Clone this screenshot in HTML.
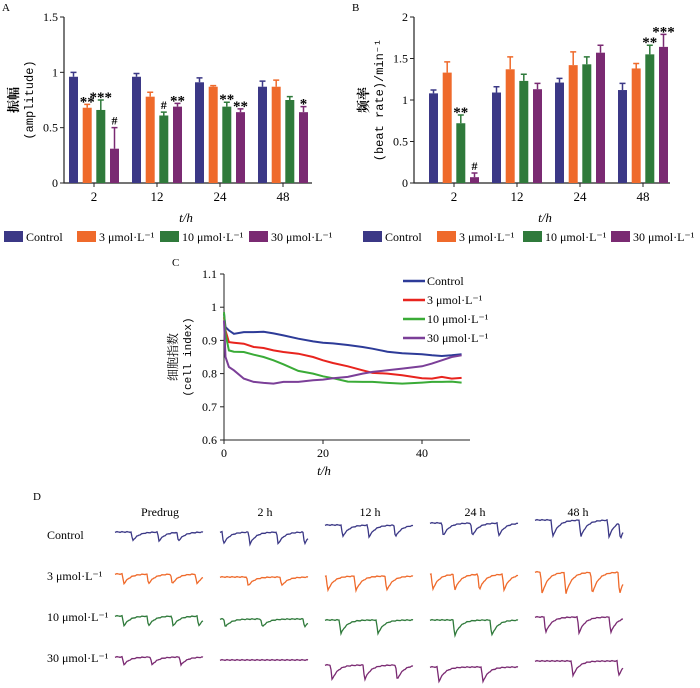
<!DOCTYPE html>
<html><head><meta charset="utf-8">
<style>
html,body{margin:0;padding:0;background:#fff;}
svg{display:block;font-family:"Liberation Serif","Noto Serif CJK SC",serif;}
</style></head>
<body>
<svg id="fig" width="700" height="688" viewBox="0 0 700 688" xmlns="http://www.w3.org/2000/svg">
<text x="2" y="11" font-size="11">A</text>
<text x="352" y="11" font-size="11">B</text>
<text x="172" y="266" font-size="11">C</text>
<text x="33" y="500" font-size="11">D</text>
<g transform="translate(18,100) rotate(-90)"><text x="0" y="0" text-anchor="middle" font-size="13" font-weight="bold">振幅</text><text x="0" y="15" text-anchor="middle" font-size="12" font-family="Liberation Mono, monospace">(amplitude)</text></g>
<g transform="translate(368,100) rotate(-90)"><text x="0" y="0" text-anchor="middle" font-size="13" font-weight="bold">频率</text><text x="0" y="15" text-anchor="middle" font-size="12" font-family="Liberation Mono, monospace">(beat rate)/min⁻¹</text></g>
<g transform="translate(177,357) rotate(-90)"><text x="0" y="0" text-anchor="middle" font-size="12">细胞指数</text><text x="0" y="14" text-anchor="middle" font-size="11" font-family="Liberation Mono, monospace">(cell index)</text></g>
<text x="186" y="222" text-anchor="middle" font-size="13" font-style="italic">t/h</text>
<text x="545" y="222" text-anchor="middle" font-size="13" font-style="italic">t/h</text>
<text x="324" y="475" text-anchor="middle" font-size="13" font-style="italic">t/h</text>
</svg>
<script>
// ---- Panel A data (amplitude) ----
const timeGroups = ['2','12','24','48'];
const ampCtrl = [0.96,0.96,0.91,0.87];
const ampCtrlErr = [0.04,0.03,0.04,0.05];
const amp3 = [0.68,0.78,0.87,0.87];
const amp3Err = [0.03,0.04,0.01,0.06];
const amp10 = [0.66,0.61,0.69,0.75];
const amp10Err = [0.09,0.03,0.04,0.03];
const amp30 = [0.31,0.69,0.64,0.64];
const amp30Err = [0.19,0.03,0.03,0.05];
const ampMarks = [['','**','***','#'],['','','#','**'],['','','**','**'],['','','','*']];
const ampTicks = [0,0.5,1,1.5];
const ampTickLabels = ['0','0.5','1','1.5'];
// ---- Panel B data (beat rate) ----
const rateCtrl = [1.08,1.09,1.21,1.12];
const rateCtrlErr = [0.04,0.07,0.05,0.08];
const rate3 = [1.33,1.37,1.42,1.38];
const rate3Err = [0.13,0.15,0.16,0.06];
const rate10 = [0.72,1.23,1.43,1.55];
const rate10Err = [0.10,0.08,0.09,0.11];
const rate30 = [0.07,1.13,1.57,1.64];
const rate30Err = [0.05,0.07,0.09,0.15];
const rateMarks = [['','','**','#'],['','','',''],['','','',''],['','','**','***']];
const rateTicks = [0,0.5,1,1.5,2];
const rateTickLabels = ['0','0.5','1','1.5','2'];
const seriesNames = ['Control','3 μmol·L⁻¹','10 μmol·L⁻¹','30 μmol·L⁻¹'];
// ---- Panel C data (cell index) ----
const ciHours = [0,0.3,1,2,4,6,8,10,12,15,18,20,22,25,28,30,33,36,40,42,44,46,48];
const ciCtrl = [0.98,0.94,0.93,0.92,0.925,0.925,0.926,0.921,0.915,0.905,0.897,0.893,0.891,0.886,0.88,0.875,0.866,0.861,0.858,0.855,0.853,0.855,0.858];
const ci3 = [0.97,0.93,0.895,0.893,0.89,0.88,0.877,0.87,0.865,0.86,0.85,0.84,0.832,0.822,0.81,0.802,0.8,0.795,0.786,0.785,0.79,0.785,0.787];
const ci10 = [0.985,0.92,0.87,0.866,0.865,0.857,0.85,0.84,0.828,0.808,0.8,0.792,0.786,0.776,0.775,0.775,0.772,0.77,0.773,0.775,0.775,0.776,0.773];
const ci30 = [0.96,0.85,0.82,0.81,0.785,0.775,0.772,0.77,0.775,0.775,0.78,0.782,0.786,0.79,0.8,0.805,0.81,0.815,0.822,0.83,0.84,0.85,0.855];
const ciTicks = [0.6,0.7,0.8,0.9,1,1.1];
const ciTickLabels = ['0.6','0.7','0.8','0.9','1','1.1'];
const ciXTicks = [0,20,40];
// ---- Panel D data (traces) ----
const traceCols = ['Predrug','2 h','12 h','24 h','48 h'];
const traceRows = ['Control','3 μmol·L⁻¹','10 μmol·L⁻¹','30 μmol·L⁻¹'];
const traceBase = [[532,532,525,523,520],[574,577,576,574,572],[616,619,620,620,617],[657,660,665,667,661]];
const traceDepth = [[9,12,12,13,17],[10,9,15,16,22],[10,8,14,16,16],[8,0,15,15,15]];
const traceSpikes = [
 [[0.2,0.5,0.72],[0.04,0.34,0.66,0.96],[0.2,0.5,0.8],[0.15,0.48,0.78],[0.2,0.52,0.84,0.97]],
 [[0.1,0.38,0.65,0.93],[0.32,0.7],[0.03,0.35,0.7],[0.03,0.28,0.56,0.84],[0.08,0.35,0.65,0.96]],
 [[0.1,0.38,0.66,0.95],[0.06,0.48,0.96],[0.18,0.6],[0.28,0.7],[0.12,0.5,0.86]],
 [[0.1,0.42,0.75],[],[0.08,0.45,0.82],[0.1,0.6],[0.43,0.95]]];
const traceColorIdx = [[0,0,0,0,0],[1,1,1,1,1],[2,2,2,2,3],[3,3,3,3,3]];

const NS='http://www.w3.org/2000/svg';
const svg=document.getElementById('fig');
const barColors=['#3b3886','#ef6a2b','#2f7a3b','#7a2a72'];
const lineColors=['#2d3b98','#e8241e','#3aab37','#7b3f98'];
function mk(tag,attrs,parent){const e=document.createElementNS(NS,tag);for(const k in attrs)e.setAttribute(k,attrs[k]);(parent||svg).appendChild(e);return e;}

function barPanel(prefix,ox,gx0,gstep,yTop,yMaxVal,means,errs,marks,ticks,tickLabels,xEnd){
  const y0=183;
  const ys=v=>y0-(v/yMaxVal)*(y0-yTop);
  const g=mk('g',{});
  
  
  const ax=mk('path',{d:`M${ox},${yTop} V${y0} H${xEnd}`,stroke:'#222',fill:'none','stroke-width':1.2},g);
  
  
  ticks.forEach((t,i)=>{
    const tk=mk('line',{x1:ox-4,x2:ox,y1:ys(t),y2:ys(t),stroke:'#222'},g);
    
    
    const tl=mk('text',{x:ox-6,y:ys(t)+4,'text-anchor':'end','font-size':12},g);
    tl.textContent=tickLabels[i];
    
    
  });
  const offs=[-20.5,-6.8,6.8,20.5];
  timeGroups.forEach((lab,gi)=>{
    const cx=gx0+gi*gstep;
    const tk=mk('line',{x1:cx,x2:cx,y1:y0,y2:y0+4,stroke:'#222'},g);
    
    
    const tl=mk('text',{x:cx,y:y0+18,'text-anchor':'middle','font-size':13},g);
    tl.textContent=lab;
    
    
    for(let s=0;s<4;s++){
      const v=means[s][gi],e=errs[s][gi],bx=cx+offs[s];
      const r=mk('rect',{x:bx-4.5,y:ys(v),width:9,height:y0-ys(v),fill:barColors[s]},g);
      
      
      const eb=mk('path',{d:`M${bx},${ys(v)} V${ys(v+e)} M${bx-3},${ys(v+e)} H${bx+3}`,stroke:barColors[s],'stroke-width':1.5,fill:'none'},g);
      
      
      const m=marks[gi][s];
      if(m){
        const at=mk('text',{x:bx,y:ys(v+e)-3+(m==='#'?0:5),'text-anchor':'middle','font-size':m==='#'?12:15,'font-weight':'bold'},g);
        at.textContent=m;
        
        
      }
    }
  });
}
barPanel('amp',64,94,63,17,1.5,[ampCtrl,amp3,amp10,amp30],[ampCtrlErr,amp3Err,amp10Err,amp30Err],ampMarks,ampTicks,ampTickLabels,312);
barPanel('rate',414,454,63,17,2,[rateCtrl,rate3,rate10,rate30],[rateCtrlErr,rate3Err,rate10Err,rate30Err],rateMarks,rateTicks,rateTickLabels,670);

function legend(prefix,xs){
  seriesNames.forEach((n,i)=>{
    const r=mk('rect',{x:xs[i],y:231,width:19,height:11,fill:barColors[i]});
    
    
    const t=mk('text',{x:xs[i]+22,y:241,'font-size':12});
    t.textContent=n;
    
    
  });
}
legend('amp',[4,77,160,249]);
legend('rate',[363,437,523,611]);

// Panel C
(function(){
  const xs=h=>224+h*4.95, ys=v=>440-(v-0.6)*332;
  const ax=mk('path',{d:`M224,274 V440 H470`,stroke:'#222',fill:'none'});
  
  
  ciTicks.forEach((t,i)=>{
    const tk=mk('line',{x1:220,x2:224,y1:ys(t),y2:ys(t),stroke:'#222'});
    
    
    const tl=mk('text',{x:217,y:ys(t)+4,'text-anchor':'end','font-size':12});
    tl.textContent=ciTickLabels[i];
    
    
  });
  ciXTicks.forEach(t=>{
    const tk=mk('line',{x1:xs(t),x2:xs(t),y1:440,y2:444,stroke:'#222'});
    
    
    const tl=mk('text',{x:xs(t),y:457,'text-anchor':'middle','font-size':12});
    tl.textContent=String(t);
    
    
  });
  [ciCtrl,ci3,ci10,ci30].forEach((ser,s)=>{
    const d=ser.map((v,i)=>(i?'L':'M')+xs(ciHours[i]).toFixed(1)+','+ys(v).toFixed(1)).join(' ');
    const p=mk('path',{d:d,stroke:lineColors[s],fill:'none','stroke-width':2});
    
    
    const ly=281+s*19;
    const ll=mk('line',{x1:403,x2:425,y1:ly,y2:ly,stroke:lineColors[s],'stroke-width':2.5});
    
    
    const lt=mk('text',{x:427,y:ly+4,'font-size':12});
    lt.textContent=seriesNames[s];
    
    
  });
})();

// Panel D
(function(){
  const colX=[115,220,325,430,535], colW=88;
  const headX=[160,265,370,475,578];
  traceCols.forEach((c,i)=>{
    const t=mk('text',{x:headX[i],y:516,'text-anchor':'middle','font-size':12});
    t.textContent=c;
    
    
  });
  const rowY=[539,580,621,662];
  traceRows.forEach((r,i)=>{
    const t=mk('text',{x:47,y:rowY[i],'font-size':12});
    t.textContent=r;
    
    
  });
  for(let r=0;r<4;r++)for(let c=0;c<5;c++){
    const base=traceBase[r][c],dep=traceDepth[r][c],sp=traceSpikes[r][c];
    let d='';
    for(let k=0;k<=colW;k++){
      let y=base;
      sp.forEach(f=>{const sx=f*colW;const dx=k-sx;
        if(dx>=-1.5&&dx<0)y+=dep*(dx+1.5)/1.5;
        else if(dx>=0)y+=dep*Math.exp(-dx/6);});
      y+=(k%5===0?0.4:(k%5===2?-0.4:0));
      d+=(k?'L':'M')+(colX[c]+k)+','+y.toFixed(1)+' ';
    }
    const p=mk('path',{d:d,stroke:barColors[traceColorIdx[r][c]],fill:'none','stroke-width':1.3});
    
    
  }
})();
</script>
</body></html>
